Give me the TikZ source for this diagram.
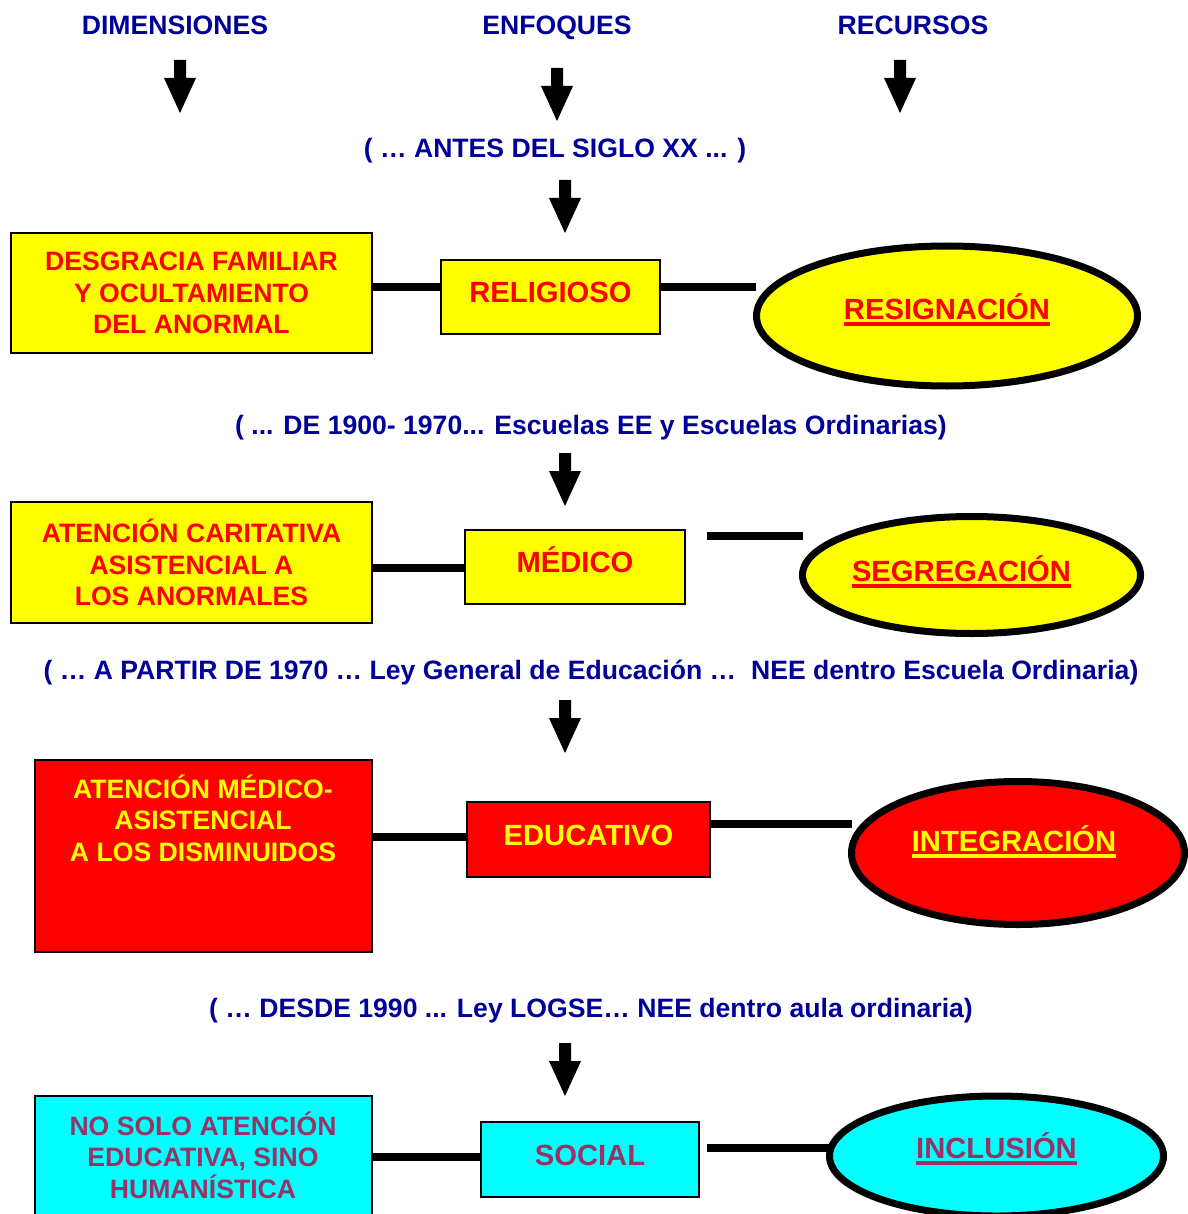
\documentclass[tikz,border=0pt]{standalone}
\usepackage{fontspec}
\setmainfont{Liberation Sans}
\usetikzlibrary{shapes.geometric}
\definecolor{azul}{RGB}{0,0,153}
\definecolor{rosa}{RGB}{153,51,102}
\definecolor{amarillo}{RGB}{255,255,0}
\definecolor{rojo}{RGB}{255,0,0}
\definecolor{cian}{RGB}{0,255,255}
\newsavebox{\cajasub}
\newcommand{\subrayado}[1]{\sbox{\cajasub}{#1}\usebox{\cajasub}\llap{\rule[-6pt]{\wd\cajasub}{3.5pt}}}
\tikzset{
  titulo/.style={text=azul, anchor=base, font=\fontsize{26.6}{31}\selectfont\bfseries},
  texto/.style={inner sep=0pt, align=center, font=\fontsize{26.6}{31.5}\selectfont\bfseries},
  caja/.style={draw, line width=2pt, inner sep=0pt, align=center, font=\fontsize{26.6}{31.5}\selectfont\bfseries},
  cajita/.style={draw, line width=2pt, inner sep=0pt, text height=21pt, text depth=10pt, font=\fontsize{29.2}{32}\selectfont\bfseries},
  elipse/.style={ellipse, draw, line width=7pt, inner sep=0pt, font=\fontsize{29.2}{32}\selectfont\bfseries},
  conector/.style={line width=8pt},
  flechaabajo/.pic={\fill (-6,0) -- (6,0) -- (6,18) -- (16,18) -- (0,53) -- (-16,18) -- (-6,18) -- cycle;}
}
\begin{document}
\begin{tikzpicture}[x=1pt,y=-1pt]
  \useasboundingbox (0,0) rectangle (1187,1214);
  % cabeceras
  \node[titulo] (dim) at (175,35) {DIMENSIONES};
  \node[titulo] (enf) at (557,35) {ENFOQUES};
  \node[titulo] (rec) at (913,35) {RECURSOS};
  \node[titulo] (ep1) at (555,158) {( … ANTES DEL SIGLO XX ... )};
  \node[titulo] (ep2) at (591,434) {( ... DE 1900- 1970... Escuelas EE y Escuelas Ordinarias)};
  \node[titulo] (ep3) at (591,679) {( … A PARTIR DE 1970 … Ley General de Educación …\ \ NEE dentro Escuela Ordinaria)};
  \node[titulo] (ep4) at (591,1017) {( … DESDE 1990 ... Ley LOGSE… NEE dentro aula ordinaria)};
  \foreach \px/\py in {180/60, 557/68, 900/60, 565/180, 565/453, 565/700, 565/1043}
    \pic at (\px,\py) {flechaabajo};
  % religioso
  \node[caja, fill=amarillo, text=rojo, minimum width=361pt, minimum height=120pt] (desg) at (191.5,293) {DESGRACIA FAMILIAR\\Y OCULTAMIENTO\\DEL ANORMAL};
  \node[cajita, fill=amarillo, text=rojo, minimum width=219pt, minimum height=74pt] (relig) at (550.5,297) {RELIGIOSO};
  \node[elipse, fill=amarillo, text=rojo, minimum width=381pt, minimum height=140pt, text depth=18pt] (resig) at (947,316) {\subrayado{RESIGNACIÓN}};
  \coordinate (r1) at (756,287);
  \draw[conector] (desg.east |- 0,287) -- (relig.west |- 0,287);
  \draw[conector] (relig.east |- r1) -- (r1);
  % medico
  \node[caja, fill=amarillo, text=rojo, minimum width=361pt, minimum height=121pt] (atcar) at (191.5,562.5) {ATENCIÓN CARITATIVA\\ASISTENCIAL A\\LOS ANORMALES};
  \node[cajita, fill=amarillo, text=rojo, minimum width=220pt, minimum height=74pt] (medico) at (575,567) {MÉDICO};
  \node[elipse, fill=amarillo, text=rojo, minimum width=332pt, minimum height=117pt, text depth=12pt] (segreg) at (971.5,575) {\subrayado{SEGREGACIÓN}\kern20pt};
  \coordinate (m1) at (707,536);
  \coordinate (m2) at (803,536);
  \draw[conector] (atcar.east |- 0,568) -- (medico.west |- 0,568);
  \draw[conector] (m1) -- (m2);
  % educativo
  \node[caja, fill=rojo, minimum width=337pt, minimum height=192pt] (medasis) at (203.5,856) {};
  \node[texto, text=amarillo] (medasistxt) at (203,818) {ATENCIÓN MÉDICO-\\ASISTENCIAL\\A LOS DISMINUIDOS};
  \node[cajita, fill=rojo, text=amarillo, minimum width=243pt, minimum height=75pt] (educ) at (588.5,839.5) {EDUCATIVO};
  \node[elipse, fill=rojo, text=amarillo, minimum width=333pt, minimum height=143pt, text depth=28pt] (integ) at (1018,853) {\subrayado{INTEGRACIÓN}\kern8pt};
  \coordinate (e1) at (852,824);
  \draw[conector] (medasis.east |- 0,837) -- (educ.west |- 0,837);
  \draw[conector] (educ.east |- e1) -- (e1);
  % social
  \node[caja, fill=cian, minimum width=337pt, minimum height=164pt] (nosolo) at (203.5,1178) {};
  \node[texto, text=rosa] (nosolotxt) at (203,1155) {NO SOLO ATENCIÓN\\EDUCATIVA, SINO\\HUMANÍSTICA};
  \node[cajita, fill=cian, text=rosa, minimum width=218pt, minimum height=75pt] (social) at (590,1159.5) {SOCIAL};
  \node[elipse, fill=cian, text=rosa, minimum width=334pt, minimum height=120pt, text depth=20pt] (incl) at (996.5,1156) {\subrayado{INCLUSIÓN}};
  \coordinate (s1) at (707,1148);
  \coordinate (s2) at (830,1148);
  \draw[conector] (nosolo.east |- 0,1157) -- (social.west |- 0,1157);
  \draw[conector] (s1) -- (s2);
\end{tikzpicture}
\end{document}
